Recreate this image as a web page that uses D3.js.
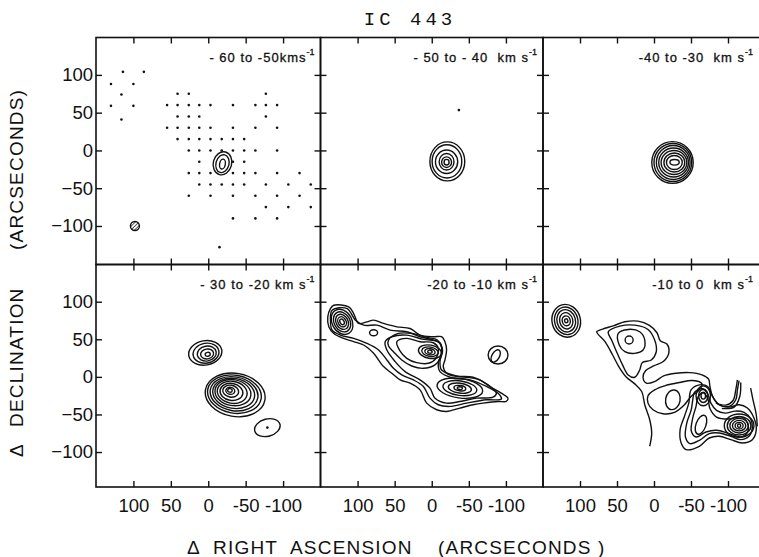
<!DOCTYPE html>
<html>
<head>
<meta charset="utf-8">
<script src="https://cdnjs.cloudflare.com/ajax/libs/d3/7.8.5/d3.min.js"></script>
<style>
  body { margin: 0; background: #fff; }
  svg { display: block; }
  text { font-family: "Liberation Sans", Arial, sans-serif; fill: #111; }
</style>
</head>
<body>
<svg id="chart" width="759" height="557"></svg>
<script>
'use strict';

// velocity interval of each channel map (km s-1), row by row
var panelLabels = ['- 60 to -50kms', '- 50 to - 40  km s', '-40 to -30  km s',
                   '- 30 to -20 km s', '-20 to -10 km s', '-10 to 0  km s'];
var tickValues = [100, 50, 0, -50, -100];
var xTickLabels = ['100', '50', '0', '-50', '-100'];
var yTickLabels = ['100', '50', '0', '\u221250', '\u2212100'];

// offsets are [dRA, dDec] in arcsec; rings are [dRA, dDec, halfRA, halfDec, tilt]

// panel 1: observed positions
var samplePoints = [
  [114, 104], [86, 104], [130, 88], [100, 88], [116, 74], [130, 59], [100, 59], [116, 41],
  [41, 75], [26, 75], [-77, 75],
  [55, 60], [41, 60], [26, 60], [12, 60], [-3, 60], [-33, 60], [-63, 60], [-77, 60], [-92, 60],
  [41, 45], [26, 45], [12, 45], [-77, 45],
  [55, 30], [41, 30], [26, 30], [12, 30], [-3, 30], [-33, 30], [-63, 30], [-92, 30],
  [41, 15], [26, 15], [12, 15], [-3, 15], [-18, 15], [-33, 15], [-48, 15],
  [26, 0], [12, 0], [-3, 0], [-18, 0], [-33, 0], [-48, 0], [-63, 0], [-92, 0],
  [12, -15], [-33, -15], [-48, -15],
  [26, -30], [12, -30], [-3, -30], [-33, -30], [-48, -30], [-63, -30], [-92, -30], [-122, -30],
  [12, -45], [-3, -45], [-18, -45], [-33, -45], [-48, -45], [-77, -45], [-107, -45], [-137, -45],
  [26, -60], [-3, -60], [-33, -60], [-63, -60], [-92, -60], [-122, -60],
  [-77, -75], [-107, -75], [-137, -75],
  [-33, -90], [-63, -90], [-92, -90],
  [-15, -128]
];
var beam = [[98, -100, 6]];
var rings1 = [[-19, -17, 12.3, 15.5, 15], [-19, -17.5, 8.7, 12, 15], [-19, -18, 3.8, 6.6, 10]];

// panel 2
var rings2 = [[-21, -14.5, 23.5, 25.8, 0], [-20.5, -14.5, 20, 22, 0], [-20, -15, 15, 15.5, 0],
              [-20, -15, 10, 11, 0], [-20, -15.5, 6.7, 7, 0], [-20, -15.5, 3.4, 3.7, 0]];
var dots2 = [[-36.6, 53.4]];

// panel 3
var rings3 = [[-25, -16, 28, 27.6, 0], [-25.5, -16, 25.5, 25.2, 0], [-26, -16, 22.8, 22.5, 0],
              [-26.5, -16, 20.1, 19.2, 0], [-27, -16, 17.4, 15.9, 0], [-27.5, -16, 14.1, 12.6, 0],
              [-27.5, -16, 10.7, 9.3, 0], [-27.8, -15.8, 6.3, 3.7, 0]];

// panel 4
var rings4 = [
  [4, 32, 22.4, 16.2, -10], [3, 31.5, 17.4, 13.2, -10], [2, 31, 12.8, 9.9, -10],
  [1.5, 30.5, 8.7, 6.6, -10], [0.7, 30, 3.4, 2.6, -10],
  [-36, -24, 40.3, 28.7, 10], [-35, -23, 36.2, 25.2, 10], [-34.5, -22.5, 32.2, 22.5, 10],
  [-34, -22, 28.2, 19.9, 10], [-33, -21, 24.2, 17.2, 10], [-32, -20.5, 20.1, 14.6, 10],
  [-31, -20, 15.4, 11.3, 10], [-30, -19, 10.7, 7.9, 10], [-29.5, -18.5, 6, 4.6, 10],
  [-29, -18, 3, 2.4, 10],
  [-79, -67.5, 17.4, 11.5, -15]
];
var dots4 = [[-79, -67.5]];

// panel 5
var outer5 = [
  [132.1, 95.3], [112, 93.1], [105.3, 84.3], [98.6, 71.1], [87.4, 73.2], [78.4, 75.5], [65, 71.1],
  [47.1, 66.6], [29.2, 64.4], [15.8, 55.6], [-2.1, 53.4], [-13.3, 53.4], [-17.8, 46.8], [-20, 35.7],
  [-17.8, 22.5], [-15.5, 13.7], [-20, 4.8], [-29, 1.3], [-46.9, -0.5], [-64.8, -4], [-78.2, -12.8],
  [-93.8, -21.7], [-102.8, -28.3], [-100.5, -32.7], [-89.4, -32.7], [-69.2, -34.9], [-55.8, -37.1],
  [-37.9, -41.5], [-20, -46], [-6.6, -43.7], [6.8, -34.9], [15.8, -17.3], [29.2, -8.4], [42.6, -4],
  [53.8, 4.8], [65, 13.7], [78.4, 31.3], [91.8, 42.4], [105.3, 46.8], [118.7, 51.2], [132.1, 57.8],
  [138.8, 66.6], [140.2, 79.9], [136.6, 90.9]
];
var inner5 = [
  [134.3, 88.7], [114.2, 90.9], [103, 75.5], [91.8, 68.8], [73.9, 68.8], [56, 62.2], [33.7, 60],
  [15.8, 53.4], [-2.1, 49], [-11.1, 44.6], [-13.3, 31.3], [-8.8, 18.1], [-11.1, 7], [-29, -1.8],
  [-51.3, -4], [-73.7, -12.8], [-91.6, -23.9], [-93.8, -29.6], [-73.7, -30.5], [-46.9, -34.9],
  [-24.5, -39.3], [-8.8, -37.1], [2.4, -28.3], [11.3, -12.8], [24.7, -4], [40.4, 2.6], [51.6, 11.4],
  [60.5, 22.5], [71.7, 35.7], [87.4, 44.6], [105.3, 51.2], [123.2, 55.6], [134.3, 62.2], [136.6, 75.5]
];
var ridge5 = [
  [53.8, 53.4], [33.7, 55.6], [11.3, 49.9], [-8.8, 46.8], [-14.6, 35.7], [-11.1, 20.3], [-13.3, 9.2],
  [-33.4, 1.3], [-55.8, -0.5], [-75.9, -10.6], [-87.1, -21.7], [-82.6, -27], [-60.3, -28.3],
  [-37.9, -32.7], [-20, -34.9], [-4.4, -28.3], [2.4, -15], [15.8, -4], [35.9, 7], [49.3, 20.3],
  [60.5, 35.7], [62.8, 46.8]
];
var knotA5 = [
  [58.3, 49], [44.9, 57.8], [27, 57.8], [6.8, 52.5], [-7.5, 49], [-13.3, 40.1], [-11.1, 24.7],
  [-4.4, 15.9], [11.3, 11.4], [27, 14.5], [40.4, 22.5], [51.6, 33.5], [58.3, 41]
];
var knotB5 = [
  [47.1, 46.8], [33.7, 51.2], [15.8, 46.8], [-2.1, 45.4], [-8.8, 37.9], [-5.7, 24.7], [4.6, 18.1],
  [20.3, 19], [33.7, 24.7], [43.5, 35.7]
];
var rings5 = [
  [2.4, 33.5, 15.7, 8.8, 10], [2.4, 33.5, 11.2, 6.2, 10], [2.4, 33.5, 7, 4, 10], [2.4, 33.5, 3, 2, 10],
  [120.9, 73.2, 13.4, 17.7, -30], [120.9, 73.2, 10.7, 14.1, -30], [120.9, 73.2, 8, 10.6, -30],
  [120.9, 73.2, 5.4, 7.1, -30], [120.9, 73.2, 2.7, 4, -30],
  [78.4, 58.7, 5.4, 4, 0],
  [-37.9, -15, 31, 13, 8], [-37.9, -15, 23, 9.7, 8], [-37.9, -15, 15.7, 6.6, 8],
  [-37.9, -15, 8, 3.5, 8], [-37.9, -15, 3.5, 1.8, 8],
  [-89.4, 29.1, 13.4, 12, 0], [-86.2, 27.8, 5, 9, 30]
];

// panel 6
var edge6 = [
  [5.8, -92.3], [3.1, -74.6], [5.8, -57], [12.5, -37.1], [16.6, -19.5], [26, -9.3], [37.2, -0.5],
  [47, 12.8], [55.9, 29.1], [66.2, 46.8], [77.4, 60], [69.4, 63.5], [55, 67.9], [39.4, 73.3],
  [21.5, 74.1], [6.7, 68.8], [-4, 58.7], [-8.5, 48.1], [-17.4, 43.7], [-20.1, 32.2], [-13, 20.7],
  [0.5, 14.5], [11.2, 8.4], [14.8, -0.5], [10.3, -8.4], [-0.9, -6.2], [-13, 1.3], [-30, 4.8],
  [-47.9, 5.7], [-64.9, 2.6], [-73.8, -3.1], [-75.6, -12.8], [-79.2, -26.1], [-88.1, -37.1],
  [-101.5, -39.3], [-110.5, -30.5], [-112.7, -17.3], [-115, -4.9]
];
var strand6a = [[-83.6, -34.9], [-97.1, -37.5], [-106.9, -31.4], [-110.5, -17.3], [-112.7, -4]];
var strand6b = [[-91.7, -42], [-108.3, -40.2], [-115.9, -26.1], [-117.2, -7.5]];
var strand6c = [[-130.6, -15], [-133.8, -30.5], [-138.2, -50.4], [-139.6, -65.8]];
var loop6 = [
  [8.1, -25.2], [-0.9, -17.3], [-14.3, -11.9], [-34.4, -7.5], [-52.3, -4.9], [-64.9, -9.3],
  [-61.3, -17.3], [-50.1, -26.1], [-41.1, -37.1], [-27.7, -47.3], [-12.1, -49], [1.4, -43.7], [8.1, -34.9]
];
var east6a = [
  [-50.1, -17.3], [-61.3, -10.6], [-72.5, -12.8], [-79.2, -26.1], [-88.1, -37.1], [-101.5, -40.2],
  [-115, -37.1], [-126.2, -41.5], [-135.1, -54.8], [-138.2, -70.2], [-132.9, -83.5], [-119.4, -87.9],
  [-103.8, -83.5], [-88.1, -79], [-74.7, -81.3], [-61.3, -92.3], [-43.4, -96.7], [-36.7, -87.9],
  [-35.3, -70.2], [-41.1, -52.6], [-47, -34.9]
];
var east6b = [
  [-54.6, -20.8], [-64.9, -15.5], [-72.5, -22.5], [-76.9, -34.9], [-84.5, -44.6], [-96.2, -48.2],
  [-109.6, -45.5], [-121.7, -47.3], [-130.6, -56.1], [-132.9, -68], [-128.4, -79], [-117.2, -83.5],
  [-103.8, -79], [-88.1, -74.6], [-74.7, -75.5], [-61.3, -84.4], [-48.7, -88.8], [-42.5, -80],
  [-44.3, -61.4], [-50.1, -44.6], [-52.3, -31.4]
];
var east6c = [
  [-59.5, -27], [-66.6, -20.8], [-72.9, -29.6], [-75.6, -42], [-84.5, -53.5], [-101.5, -56.1],
  [-118.5, -53.5], [-126.2, -61.4], [-126.2, -73.8], [-117.2, -80], [-101.5, -75.5], [-84.5, -71.1],
  [-70.2, -73.3], [-56.8, -80], [-50.5, -72.4], [-52.3, -54.8], [-56.8, -39.3]
];
var north6a = [
  [61.8, 60], [46.1, 67.5], [26, 68.8], [8.1, 63.1], [-0.9, 49], [-3.1, 33.5], [3.6, 22.5],
  [15.7, 19], [19.3, 9.2], [26, -0.5], [34.9, 2.6], [42.5, 15.9], [50.6, 33.5], [57.3, 49]
];
var north6b = [
  [48.3, 57.8], [34.9, 63.1], [19.3, 60], [12.5, 49], [14.8, 35.7], [26, 31.3], [39.4, 33.5], [47, 42.4]
];
var rings6 = [
  [118.6, 74.6, 19.2, 22, -15], [118.6, 74.6, 15.7, 18.5, -15], [118.6, 74.6, 12.5, 15, -15],
  [118.6, 74.6, 8.9, 11, -15], [118.6, 74.6, 5.4, 6.6, -15], [118.6, 74.6, 2.2, 2.6, -15],
  [33.6, 49, 5.4, 5.3, 0],
  [-25.5, -30.5, 9.8, 13.2, 10],
  [-63.5, -63.6, 6.7, 13.2, 20],
  [-66.6, -25.2, 9.8, 13.2, 0], [-66.6, -25.2, 6.3, 8.8, 0], [-66.6, -25.2, 3.1, 4.4, 0],
  [-115, -64.9, 20, 15.5, 0], [-115, -64.9, 16, 12.4, 0], [-115, -64.9, 12.5, 9.7, 0],
  [-115, -64.9, 9, 7, 0], [-115, -64.9, 5.4, 4.4, 0], [-115, -64.9, 2.2, 2.2, 0]
];

var panels = [
  { row: 0, col: 0, label: panelLabels[0], rings: rings1, dots: samplePoints, beams: beam, closed: [], open: [] },
  { row: 0, col: 1, label: panelLabels[1], rings: rings2, dots: dots2, beams: [], closed: [], open: [] },
  { row: 0, col: 2, label: panelLabels[2], rings: rings3, dots: [], beams: [], closed: [], open: [] },
  { row: 1, col: 0, label: panelLabels[3], rings: rings4, dots: dots4, beams: [], closed: [], open: [] },
  { row: 1, col: 1, label: panelLabels[4], rings: rings5, dots: [], beams: [],
    closed: [outer5, inner5, ridge5, knotA5, knotB5], open: [] },
  { row: 1, col: 2, label: panelLabels[5], rings: rings6, dots: [], beams: [],
    closed: [loop6, east6a, east6b, east6c, north6a, north6b], open: [edge6, strand6a, strand6b, strand6c] }
];

var WIDTH = 759;
var TICK = 6;
var cols = [{ left: 96, right: 320.5 }, { left: 320.5, right: 543 }, { left: 543, right: 765 }];
var rows = [{ top: 37.5, bottom: 264.5, dec: [-151, 149.5] },
            { top: 264.5, bottom: 487, dec: [-146.5, 149.5] }];

var svg = d3.select('#chart');

var defs = svg.append('defs');
defs.append('pattern')
    .attr('id', 'hatch')
    .attr('patternUnits', 'userSpaceOnUse')
    .attr('width', 2.6)
    .attr('height', 2.6)
    .attr('patternTransform', 'rotate(45)')
    .append('line')
    .attr('x1', 0).attr('y1', 0).attr('x2', 0).attr('y2', 2.6)
    .style('stroke', '#111')
    .style('stroke-width', 1.3);

// title
svg.append('text')
    .attr('x', 410)
    .attr('y', 25)
    .attr('text-anchor', 'middle')
    .style('font-family', '"Liberation Mono", "DejaVu Sans Mono", monospace')
    .style('font-size', '19px')
    .style('letter-spacing', '4px')
    .text('IC 443');

function drawPanel(p)
{
    var col = cols[p.col];
    var row = rows[p.row];
    var x = d3.scaleLinear().domain([150, -150]).range([col.left, col.right]);
    var y = d3.scaleLinear().domain(row.dec).range([row.bottom, row.top]);

    var g = svg.append('g').attr('class', 'panel');

    g.append('rect')
        .attr('x', col.left)
        .attr('y', row.top)
        .attr('width', col.right - col.left)
        .attr('height', row.bottom - row.top)
        .style('fill', 'none')
        .style('stroke', '#111')
        .style('stroke-width', 1.6);

    // inward ticks on all four sides
    var axes = [
        { gen: d3.axisTop(x), tr: 'translate(0,' + row.top + ')', labels: null },
        { gen: d3.axisBottom(x), tr: 'translate(0,' + row.bottom + ')', labels: p.row === 1 ? xTickLabels : null },
        { gen: d3.axisLeft(y), tr: 'translate(' + col.left + ',0)', labels: p.col === 0 ? yTickLabels : null },
        { gen: d3.axisRight(y), tr: 'translate(' + col.right + ',0)', labels: null }
    ];
    axes.forEach(function(a, k) {
        a.gen.tickValues(tickValues)
            .tickSize(-TICK)
            .tickSizeOuter(0)
            .tickPadding(k === 1 ? 12 : 3)
            .tickFormat(function(d, i) { return a.labels ? a.labels[i] : ''; });
        var ag = g.append('g').attr('transform', a.tr).call(a.gen);
        ag.select('.domain').remove();
        ag.attr('font-family', null).attr('font-size', null);
        ag.selectAll('line').style('stroke', '#111').style('stroke-width', 1.4);
        ag.selectAll('text')
            .style('font-size', '18.5px')
            .style('fill', '#111');
    });

    var ringSel = g.selectAll('ellipse.ring').data(p.rings).join('ellipse')
        .attr('class', 'ring')
        .attr('cx', function(d) { return x(d[0]); })
        .attr('cy', function(d) { return y(d[1]); })
        .attr('rx', function(d) { return Math.abs(x(d[0] + d[2]) - x(d[0])); })
        .attr('ry', function(d) { return Math.abs(y(d[1] + d[3]) - y(d[1])); })
        .attr('transform', function(d) { return 'rotate(' + d[4] + ',' + x(d[0]) + ',' + y(d[1]) + ')'; });

    var closedLine = d3.line()
        .x(function(d) { return x(d[0]); })
        .y(function(d) { return y(d[1]); })
        .curve(d3.curveCatmullRomClosed.alpha(0.5));
    var openLine = d3.line()
        .x(function(d) { return x(d[0]); })
        .y(function(d) { return y(d[1]); })
        .curve(d3.curveCatmullRom.alpha(0.5));

    var closedSel = g.selectAll('path.closed').data(p.closed).join('path')
        .attr('class', 'closed')
        .attr('d', closedLine);
    var openSel = g.selectAll('path.open').data(p.open).join('path')
        .attr('class', 'open')
        .attr('d', openLine);

    [ringSel, closedSel, openSel].forEach(function(sel) {
        sel.style('fill', 'none')
            .style('stroke', '#111')
            .style('stroke-width', 1.4)
            .style('stroke-linejoin', 'round');
    });

    g.selectAll('circle.dot').data(p.dots).join('circle')
        .attr('class', 'dot')
        .attr('cx', function(d) { return x(d[0]); })
        .attr('cy', function(d) { return y(d[1]); })
        .attr('r', 1.3)
        .style('fill', '#111');

    g.selectAll('circle.beam').data(p.beams).join('circle')
        .attr('class', 'beam')
        .attr('cx', function(d) { return x(d[0]); })
        .attr('cy', function(d) { return y(d[1]); })
        .attr('r', function(d) { return Math.abs(x(d[0] + d[2]) - x(d[0])); })
        .style('fill', 'url(#hatch)')
        .style('stroke', '#111')
        .style('stroke-width', 1.4);

    var lab = g.append('text')
        .attr('x', Math.min(col.right, WIDTH) - 6)
        .attr('y', row.top + 24)
        .attr('text-anchor', 'end')
        .style('font-size', '13px')
        .style('letter-spacing', '1px')
        .style('white-space', 'pre')
        .style('stroke', '#111')
        .style('stroke-width', 0.3);
    lab.append('tspan').text(p.label);
    lab.append('tspan')
        .attr('dy', -7)
        .style('font-size', '9px')
        .style('letter-spacing', '0px')
        .text('-1');
}

panels.forEach(drawPanel);

// axis titles
var xTitle = svg.append('text')
    .attr('y', 554)
    .style('font-size', '19px')
    .style('letter-spacing', '1.2px');
[['\u0394', 187], ['RIGHT', 213], ['ASCENSION', 290], ['(ARCSECONDS )', 438]].forEach(function(w) {
    xTitle.append('tspan').attr('x', w[1]).text(w[0]);
});

var yTitle = svg.append('text')
    .attr('transform', 'translate(23,0) rotate(-90)')
    .style('font-size', '19px')
    .style('letter-spacing', '1.2px');
[['\u0394', 457], ['DECLINATION', 427], ['(ARCSECONDS)', 250]].forEach(function(w) {
    yTitle.append('tspan').attr('x', -w[1]).text(w[0]);
});
</script>
</body>
</html>
